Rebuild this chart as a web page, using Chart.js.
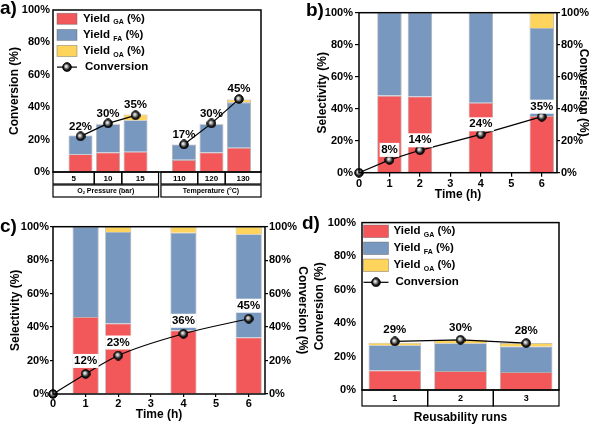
<!DOCTYPE html>
<html>
<head>
<meta charset="utf-8">
<script src="https://cdn.jsdelivr.net/npm/chart.js@4/dist/chart.umd.min.js"></script>
<style>
html, body { margin: 0; padding: 0; background: #fff; }
#wrap { position: relative; width: 598px; height: 425px; overflow: hidden; background: #fff; }
canvas { position: absolute; }
</style>
</head>
<body>
<div id="wrap">
  <canvas id="ca" style="left:0;top:0;width:300px;height:210px" width="300" height="210"></canvas>
  <canvas id="cb" style="left:300px;top:0;width:298px;height:210px" width="298" height="210"></canvas>
  <canvas id="cc" style="left:0;top:210px;width:310px;height:215px" width="310" height="215"></canvas>
  <canvas id="cd" style="left:300px;top:210px;width:298px;height:215px" width="298" height="215"></canvas>
</div>
<script>
const FONT = "'Liberation Sans', Arial, sans-serif";
const RED = '#F2575A', BLUE = '#7898BF', YEL = '#FFD45C';
const seriesTags = ['GA', 'FA', 'OA'];

// a) O2 pressure / temperature
const pressureLabels = ['5', '10', '15'];
const tempLabels = ['110', '120', '130'];
const gaA = [11, 12, 12.5, 7.5, 12, 15];
const faA = [11.5, 17.5, 19.5, 9.5, 17.5, 28];
const oaA = [0, 0.3, 3.5, 0, 0.3, 1.8];
const convA = [22, 30, 35, 17, 30, 45];

// b) time course
const timeB = [1, 2, 4, 6];
const gaB = [48.2, 47.6, 43.7, 35.5];
const faB = [51.8, 52.4, 56.3, 55];
const oaB = [0, 0, 0, 9.5];
const convTimeB = [0, 1, 2, 4, 6];
const convB = [0, 8, 14, 24, 35];

// c) time course
const timeC = [1, 2, 4, 6];
const gaC = [46, 42.2, 38, 33.8];
const faC = [54, 54.6, 58.4, 61.7];
const oaC = [0, 3.2, 3.6, 4.5];
const convTimeC = [0, 1, 2, 4, 6];
const convC = [0, 12, 23, 36, 45];

// d) reusability
const runs = ['1', '2', '3'];
const gaD = [11.7, 11.3, 10.7];
const faD = [15.1, 16.6, 15.3];
const oaD = [1.5, 2.1, 2.1];
const convD = [29, 30, 28];

Chart.defaults.font.family = FONT;
Chart.defaults.color = '#000';
Chart.defaults.animation = false;
Chart.defaults.events = [];
Chart.defaults.plugins.legend.display = false;
Chart.defaults.plugins.tooltip.enabled = false;

// little shaded ball used as marker
function makeSphere() {
  const c = document.createElement('canvas');
  c.width = 10; c.height = 10;
  const g = c.getContext('2d');
  const grd = g.createRadialGradient(4, 4, 0.3, 5, 5, 4.8);
  grd.addColorStop(0, '#ffffff');
  grd.addColorStop(0.3, '#a0a0a0');
  grd.addColorStop(0.65, '#1a1a1a');
  grd.addColorStop(1, '#000');
  g.fillStyle = grd;
  g.beginPath(); g.arc(5, 5, 4.3, 0, Math.PI * 2); g.fill();
  g.lineWidth = 1; g.strokeStyle = '#000'; g.stroke();
  return c;
}
const sphere = makeSphere();

// text with subscripts
function richText(ctx, x, y, parts, size, align) {
  const fonts = parts.map(p => `bold ${p.sub ? Math.round(size * 0.64) : size}px ${FONT}`);
  let total = 0;
  const widths = parts.map((p, i) => { ctx.font = fonts[i]; const w = ctx.measureText(p.t).width; total += w; return w; });
  let cx = align === 'center' ? x - total / 2 : x;
  ctx.textAlign = 'left'; ctx.textBaseline = 'middle';
  parts.forEach((p, i) => {
    ctx.font = fonts[i];
    ctx.fillText(p.t, cx, y + (p.sub ? size * 0.32 : 0));
    cx += widths[i];
  });
}

function drawLegend(ctx, a, L) {
  const x0 = a.left + L.dx;
  [RED, BLUE, YEL].forEach((col, k) => {
    const cy = a.top + L.dy + k * L.gap;
    ctx.fillStyle = col;
    ctx.fillRect(x0, cy - L.bh / 2, L.bw, L.bh);
    ctx.strokeStyle = 'rgba(90,90,90,0.5)'; ctx.lineWidth = 0.8;
    ctx.strokeRect(x0, cy - L.bh / 2, L.bw, L.bh);
    ctx.fillStyle = '#000';
    richText(ctx, x0 + L.bw + L.tx, cy, [{t: 'Yield '}, {t: seriesTags[k], sub: true}, {t: ' (%)'}], L.size);
  });
  const cy = a.top + L.dy + 3 * L.gap;
  ctx.strokeStyle = '#000'; ctx.lineWidth = 1.2;
  ctx.beginPath(); ctx.moveTo(x0, cy); ctx.lineTo(x0 + L.bw, cy); ctx.stroke();
  ctx.drawImage(sphere, x0 + L.bw / 2 - 5, cy - 5);
  ctx.fillStyle = '#000';
  richText(ctx, x0 + L.bw + L.tx + 2, cy, [{t: 'Conversion'}], L.size);
}

// per-canvas extra drawing (kept out of options so Chart.js does not treat them as scriptable)
const extras = {};

const panelPlugin = {
  id: 'panel',
  afterDatasetsDraw(chart) {
    const o = chart.options.plugins.panel;
    if (!o || !o.letter) return;
    const ctx = chart.ctx, a = chart.chartArea;
    ctx.save();
    ctx.strokeStyle = '#000'; ctx.lineWidth = 1.5;
    ctx.strokeRect(a.left, a.top, a.right - a.left, a.bottom - a.top);
    // value labels on the conversion line
    chart.data.datasets.forEach((ds, di) => {
      if (ds.type !== 'line') return;
      const meta = chart.getDatasetMeta(di);
      meta.data.forEach((pt, i) => {
        const raw = ds.data[i];
        const v = (raw && typeof raw === 'object') ? raw.y : raw;
        if (!v) return;
        const txt = Math.round(v) + '%';
        ctx.font = `bold 11.5px ${FONT}`;
        const w = ctx.measureText(txt).width;
        const cy = pt.y - o.labelOff;
        if (o.labelBg) { ctx.fillStyle = '#fff'; ctx.fillRect(pt.x - w / 2 - 1.5, cy - 7, w + 3, 14); }
        ctx.fillStyle = '#000'; ctx.textAlign = 'center'; ctx.textBaseline = 'middle';
        ctx.fillText(txt, pt.x, cy);
      });
    });
    if (o.legend) drawLegend(ctx, a, o.legend);
    const fn = extras[chart.canvas.id];
    if (fn) fn(chart, ctx);
    ctx.font = `bold 19px ${FONT}`; ctx.fillStyle = '#000';
    ctx.textAlign = 'left'; ctx.textBaseline = 'middle';
    ctx.fillText(o.letter, o.letterX, o.letterY);
    ctx.restore();
  }
};
Chart.register(panelPlugin);

function yScale(pos, title, width, titlePad, tickLen, tickPad, stacked) {
  return {
    position: pos, min: 0, max: 100, stacked: stacked,
    border: {display: false},
    grid: {drawOnChartArea: false, drawTicks: tickLen > 0, tickLength: tickLen, color: '#000', lineWidth: 1.2},
    ticks: {stepSize: 20, padding: tickPad, color: '#000', font: {size: 11, weight: 'bold'}, callback: v => v + '%'},
    title: {display: true, text: title, color: '#000', font: {size: 12, weight: 'bold'}, padding: {top: titlePad, bottom: 0}},
    afterFit: s => { s.width = width; }
  };
}

function xTime(height, titlePad, tickLen, tickPad) {
  return {
    type: 'linear', position: 'bottom', min: 0, max: 6.5, offset: false, stacked: true,
    border: {display: false},
    grid: {drawOnChartArea: false, offset: false, tickLength: tickLen, color: '#000', lineWidth: 1.2},
    ticks: {stepSize: 1, includeBounds: false, padding: tickPad, color: '#000', font: {size: 11, weight: 'bold'},
      callback: v => Number.isInteger(v) ? String(v) : ''},
    title: {display: true, text: 'Time (h)', color: '#000', font: {size: 12, weight: 'bold'}, padding: {top: 0, bottom: titlePad}},
    afterFit: s => { s.height = height; }
  };
}

function barSets(ga, fa, oa, xs, bp) {
  return [ga, fa, oa].map((vals, k) => ({
    type: 'bar',
    label: 'Yield ' + seriesTags[k],
    data: vals.map((v, i) => {
      const y = v === 0 ? null : v;
      return xs ? {x: xs[i], y: y} : y;
    }),
    backgroundColor: [RED, BLUE, YEL][k],
    borderColor: 'rgba(90,90,90,0.5)',
    borderWidth: 0.8,
    barPercentage: bp,
    categoryPercentage: 1,
    yAxisID: 'y',
    order: 1
  }));
}

function convLine(xs, ys, axis, smooth) {
  return {
    type: 'line',
    label: 'Conversion',
    data: xs ? ys.map((v, i) => ({x: xs[i], y: v})) : ys,
    yAxisID: axis,
    stack: 'conv',
    borderColor: '#000',
    borderWidth: 1.2,
    pointStyle: sphere,
    pointRadius: 5,
    tension: 0,
    cubicInterpolationMode: smooth ? 'monotone' : 'default',
    clip: false,
    order: 0
  };
}

// ---------- a ----------
const xPosA = convA.map((v, i) => i + 1 + (i >= 3 ? 0.76 : 0));

extras.ca = function (chart, ctx) {
  const a = chart.chartArea, sx = chart.scales.x;
  const px = xPosA.map(v => sx.getPixelForValue(v));
  const edges = [a.left];
  for (let i = 0; i < px.length - 1; i++) edges.push((px[i] + px[i + 1]) / 2);
  edges.push(a.right);
  const t1 = a.bottom, b1 = a.bottom + 12, t2 = a.bottom + 13, b2 = a.bottom + 25;
  const cells = pressureLabels.concat(tempLabels);
  ctx.strokeStyle = '#000'; ctx.lineWidth = 1.2; ctx.fillStyle = '#000';
  cells.forEach((lab, i) => {
    const l = edges[i] + (i === 3 ? 1.2 : 0);
    const r = edges[i + 1] - (i === 2 ? 1.2 : 0);
    ctx.strokeRect(l, t1, r - l, b1 - t1);
    ctx.font = `bold 8px ${FONT}`; ctx.textAlign = 'center'; ctx.textBaseline = 'middle';
    ctx.fillText(lab, (l + r) / 2, (t1 + b1) / 2 + 0.5);
  });
  const g1l = edges[0], g1r = edges[3] - 1.2, g2l = edges[3] + 1.2, g2r = edges[6];
  ctx.strokeRect(g1l, t2, g1r - g1l, b2 - t2);
  ctx.strokeRect(g2l, t2, g2r - g2l, b2 - t2);
  richText(ctx, (g1l + g1r) / 2, (t2 + b2) / 2, [{t: 'O'}, {t: '2', sub: true}, {t: ' Pressure (bar)'}], 7, 'center');
  richText(ctx, (g2l + g2r) / 2, (t2 + b2) / 2, [{t: 'Temperature (°C)'}], 7, 'center');
};

new Chart(document.getElementById('ca'), {
  type: 'bar',
  data: {
    datasets: barSets(gaA, faA, oaA, xPosA, 0.87).concat([
      convLine(xPosA.slice(0, 3), convA.slice(0, 3), 'y', false),
      convLine(xPosA.slice(3), convA.slice(3), 'y', false)
    ])
  },
  options: {
    responsive: false,
    layout: {padding: {top: 10, right: 39, bottom: 38, left: 0}},
    scales: {
      x: {type: 'linear', display: false, min: 0, max: 7.56, offset: false, stacked: true,
        grid: {offset: false}, ticks: {stepSize: 1, includeBounds: false}},
      y: yScale('left', 'Conversion (%)', 53, 7.8, 0, 3, true)
    },
    plugins: {
      panel: {
        letter: 'a)', letterX: 0, letterY: 9,
        labelOff: 10, labelBg: false,
        legend: {dx: 4, dy: 8.8, gap: 16.1, bw: 20, bh: 11, tx: 6, size: 11.5}
      }
    }
  }
});

// ---------- b ----------
new Chart(document.getElementById('cb'), {
  type: 'bar',
  data: {
    datasets: barSets(gaB, faB, oaB, timeB, 0.8).concat([convLine(convTimeB, convB, 'y2', false)])
  },
  options: {
    responsive: false,
    layout: {padding: {top: 12.7, right: 0, bottom: 0, left: 0}},
    scales: {
      x: xTime(37.3, 7.8, 4, 1),
      y: yScale('left', 'Selectivity (%)', 59, 15.8, 4, 2, true),
      y2: yScale('right', 'Conversion (%)', 41, 7.8, 3, 1, false)
    },
    plugins: {
      panel: {letter: 'b)', letterX: 6, letterY: 10.5, labelOff: 10, labelBg: true}
    }
  }
});

// ---------- c ----------
new Chart(document.getElementById('cc'), {
  type: 'bar',
  data: {
    datasets: barSets(gaC, faC, oaC, timeC, 0.8).concat([convLine(convTimeC, convC, 'y2', true)])
  },
  options: {
    responsive: false,
    layout: {padding: {top: 16.7, right: 0, bottom: 0, left: 0}},
    scales: {
      x: xTime(31, 2.8, 3, 0),
      y: yScale('left', 'Selectivity (%)', 53, 8.8, 3, 1, true),
      y2: yScale('right', 'Conversion (%)', 45, 0.8, 3, 1, false)
    },
    plugins: {
      panel: {letter: 'c)', letterX: 0, letterY: 17, labelOff: 13, labelBg: true}
    }
  }
});

// ---------- d ----------
extras.cd = function (chart, ctx) {
  const a = chart.chartArea;
  const w = (a.right - a.left) / runs.length;
  const t = a.bottom, b = a.bottom + 16;
  ctx.strokeStyle = '#000'; ctx.lineWidth = 1.2; ctx.fillStyle = '#000';
  runs.forEach((lab, i) => {
    const l = a.left + i * w;
    ctx.strokeRect(l, t, w, b - t);
    ctx.font = `bold 9px ${FONT}`; ctx.textAlign = 'center'; ctx.textBaseline = 'middle';
    ctx.fillText(lab, l + w / 2, (t + b) / 2 + 0.5);
  });
  ctx.font = `bold 12px ${FONT}`; ctx.textAlign = 'center'; ctx.textBaseline = 'middle';
  ctx.fillText('Reusability runs', (a.left + a.right) / 2, a.bottom + 28);
};

new Chart(document.getElementById('cd'), {
  type: 'bar',
  data: {
    labels: runs,
    datasets: barSets(gaD, faD, oaD, null, 0.8).concat([convLine(null, convD, 'y', false)])
  },
  options: {
    responsive: false,
    layout: {padding: {top: 9.3, right: 39, bottom: 35, left: 0}},
    scales: {
      x: {display: false, stacked: true},
      y: yScale('left', 'Conversion (%)', 62, 12.8, 0, 6, true)
    },
    plugins: {
      panel: {
        letter: 'd)', letterX: 2, letterY: 13.5,
        labelOff: 12, labelBg: false,
        legend: {dx: 1.5, dy: 8.7, gap: 17, bw: 25, bh: 12.5, tx: 5, size: 11.5}
      }
    }
  }
});
</script>
</body>
</html>
